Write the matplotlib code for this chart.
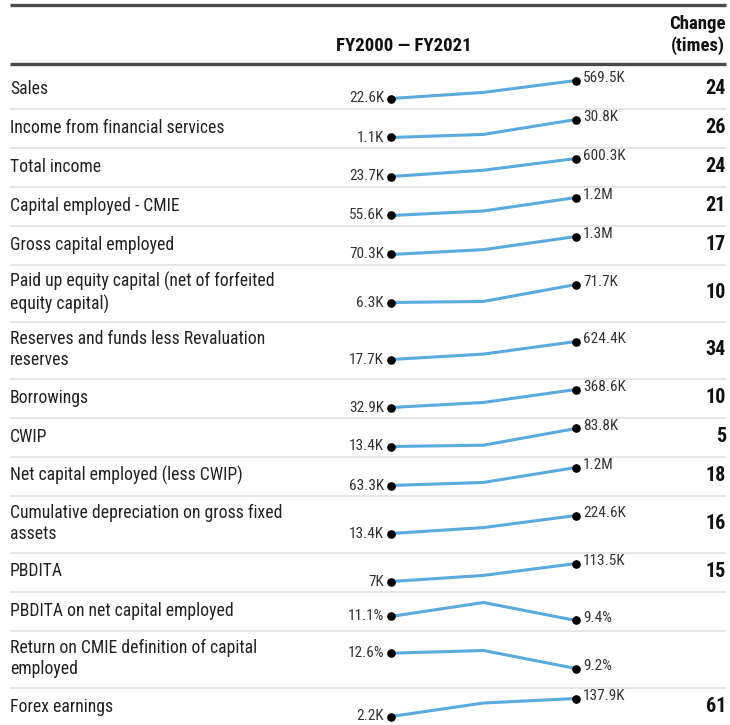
import matplotlib
matplotlib.use('Agg')
import matplotlib.pyplot as plt

plt.rcParams['font.family'] = ['Roboto Condensed', 'DejaVu Sans']

# ---- data ----
labels = ['Sales',
          'Income from financial services',
          'Total income',
          'Capital employed - CMIE',
          'Gross capital employed',
          'Paid up equity capital (net of forfeited\nequity capital)',
          'Reserves and funds less Revaluation\nreserves',
          'Borrowings',
          'CWIP',
          'Net capital employed (less CWIP)',
          'Cumulative depreciation on gross fixed\nassets',
          'PBDITA',
          'PBDITA on net capital employed',
          'Return on CMIE definition of capital\nemployed',
          'Forex earnings']
units = ['K', 'K', 'K', 'K', 'K', 'K', 'K', 'K', 'K', 'K', 'K', 'K', '%', '%', 'K']
v_start = [22.6, 1.1, 23.7, 55.6, 70.3, 6.3, 17.7, 32.9, 13.4, 63.3, 13.4, 7, 11.1, 12.6, 2.2]
v_mid = [208, 6.2, 225, 342, 402, 10.2, 200, 127, 18.5, 257, 83, 43, 16.9, 13.2, 104]
v_end = [569.5, 30.8, 600.3, 1200, 1300, 71.7, 624.4, 368.6, 83.8, 1200, 224.6, 113.5, 9.4, 9.2, 137.9]
change = [24, 26, 24, 21, 17, 10, 34, 10, 5, 18, 16, 15, None, None, 61]


def fmt(v, u):
    if u == '%':
        return f'{v:.1f}%'
    if v >= 1000:
        s, suf = f'{v / 1000:.1f}', 'M'
    else:
        s, suf = f'{v:.1f}', 'K'
    if s.endswith('.0'):
        s = s[:-2]
    return s + suf


W, H = 730, 725
fig = plt.figure(figsize=(W / 100, H / 100), dpi=100)
ax = fig.add_axes([0, 0, 1, 1])
ax.set_xlim(0, W)
ax.set_ylim(H, 0)
ax.axis('off')

LINE = '#4a4a4a'
SEP = '#e4e4e4'
BLUE = '#5aaade'
X0, X1 = 10, 726

# header
ax.plot([X0, X1], [5, 5], color=LINE, lw=2.4, solid_capstyle='butt')
ax.text(404, 45.5, 'FY2000 — FY2021', ha='center', va='center', fontsize=13.5, fontweight='bold', color='#111')
ax.text(X1, 35, 'Change\n(times)', ha='right', va='center', fontsize=13.5, fontweight='bold',
        color='#111', linespacing=1.2, multialignment='center')
ax.plot([X0, X1], [64, 64], color=LINE, lw=2.4, solid_capstyle='butt', zorder=5)

# rows
SX0, SX1 = 391, 576
BAND = 18
y = 70
for i in range(len(labels)):
    nl = labels[i].count('\n') + 1
    h = 39 if nl == 1 else 57
    top = y
    bot = y + h
    cy = (top + bot) / 2

    if i > 0:
        ax.plot([X0, X1], [top, top], color=SEP, lw=1.3, solid_capstyle='butt')

    ax.text(X0, cy - 1, labels[i], ha='left', va='center', fontsize=12.7, color='#222', linespacing=1.25)
    if change[i] is not None:
        ax.text(X1, cy - 1, str(change[i]), ha='right', va='center', fontsize=14.5, fontweight='bold', color='#111')

    # sparkline
    vals = [v_start[i], v_mid[i], v_end[i]]
    sa = fig.add_axes([SX0 / W, 1 - (cy + BAND / 2) / H, (SX1 - SX0) / W, BAND / H])
    sa.plot([0, 1, 2], vals, color=BLUE, lw=2.2, solid_joinstyle='round', clip_on=False)
    sa.plot([0, 2], [vals[0], vals[2]], 'o', color='black', ms=5.2, clip_on=False, zorder=3)
    sa.set_xlim(0, 2)
    sa.set_ylim(min(vals), max(vals))
    sa.axis('off')
    sa.annotate(fmt(vals[0], units[i]), (0, vals[0]), xytext=(-5, 0), textcoords='offset points',
                ha='right', va='center', fontsize=11, color='#333')
    sa.annotate(fmt(vals[2], units[i]), (2, vals[2]), xytext=(5, 1.5), textcoords='offset points',
                ha='left', va='center', fontsize=11, color='#333')

    y = bot

plt.savefig('out.png', dpi=100)
